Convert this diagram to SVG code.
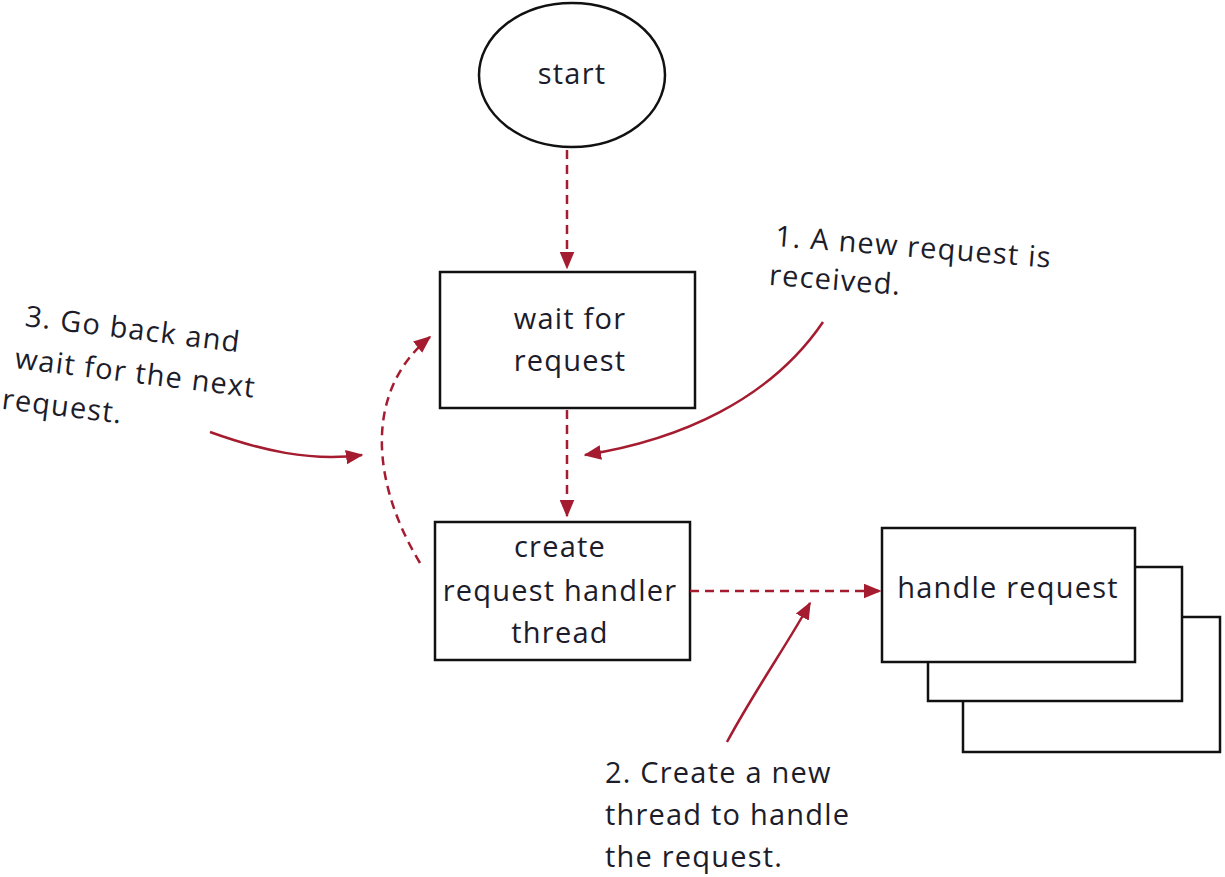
<svg xmlns="http://www.w3.org/2000/svg" width="1225" height="877" viewBox="0 0 1225 877">
  <style>
    .shape { fill: #ffffff; stroke: #111111; stroke-width: 2.5; }
    .label { font-family: "Open Sans", "Liberation Sans", sans-serif; font-size: 29px; letter-spacing: 1.2px; fill: #1c1c2a; }
    .mid { text-anchor: middle; }
    .flow { fill: none; stroke: #a51c30; stroke-width: 2.5; stroke-dasharray: 9 6; }
    .note { fill: none; stroke: #a51c30; stroke-width: 2.5; }
  </style>
  <defs>
    <marker id="head" viewBox="0 0 12 10" refX="11" refY="5" markerWidth="7" markerHeight="6" markerUnits="strokeWidth" orient="auto">
      <path d="M0,0 L12,5 L0,10 Z" fill="#a51c30"/>
    </marker>
  </defs>

  <!-- start -->
  <g id="start">
    <ellipse class="shape" cx="572" cy="75" rx="93" ry="72"/>
    <text class="label mid" x="572" y="84">start</text>
  </g>

  <!-- wait for request -->
  <g id="wait">
    <rect class="shape" x="440" y="272" width="255" height="136"/>
    <text class="label mid" x="570" y="329">wait for</text>
    <text class="label mid" x="570" y="371">request</text>
  </g>

  <!-- create request handler thread -->
  <g id="create">
    <rect class="shape" x="435" y="522" width="255" height="138"/>
    <text class="label mid" x="560" y="557">create</text>
    <text class="label mid" x="560" y="601">request handler</text>
    <text class="label mid" x="560" y="643">thread</text>
  </g>

  <!-- handle request (stack of threads) -->
  <g id="handle">
    <rect class="shape" x="963" y="617" width="257" height="135"/>
    <rect class="shape" x="928" y="567" width="254" height="134"/>
    <rect class="shape" x="882" y="528" width="253" height="134"/>
    <text class="label mid" x="1008" y="598">handle request</text>
  </g>

  <!-- annotations -->
  <g id="note1" transform="rotate(4.5 775 240)">
    <text class="label" x="775" y="246">1. A new request is</text>
    <text class="label" x="772" y="285">received.</text>
  </g>
  <g id="note2">
    <text class="label" x="605" y="783">2. Create a new</text>
    <text class="label" x="605" y="825">thread to handle</text>
    <text class="label" x="605" y="867">the request.</text>
  </g>
  <g id="note3" transform="rotate(7 25 320)">
    <text class="label" x="25" y="326">3. Go back and</text>
    <text class="label" x="20" y="369">wait for the next</text>
    <text class="label" x="12" y="411">request.</text>
  </g>

  <!-- connectors -->
  <g id="connectors">
    <path class="flow" d="M567,150 L567,268" marker-end="url(#head)"/>
    <path class="flow" d="M567,410 L567,516" marker-end="url(#head)"/>
    <path class="flow" d="M690,591 L880,591" marker-end="url(#head)"/>
    <path class="flow" d="M420,563 C370,480 365,390 430,337" marker-end="url(#head)"/>
    <path class="note" d="M210,432 C260,450 310,462 362,455" marker-end="url(#head)"/>
    <path class="note" d="M823,322 C770,400 680,440 585,455" marker-end="url(#head)"/>
    <path class="note" d="M727,742 C755,690 790,640 810,603" marker-end="url(#head)"/>
  </g>
</svg>
